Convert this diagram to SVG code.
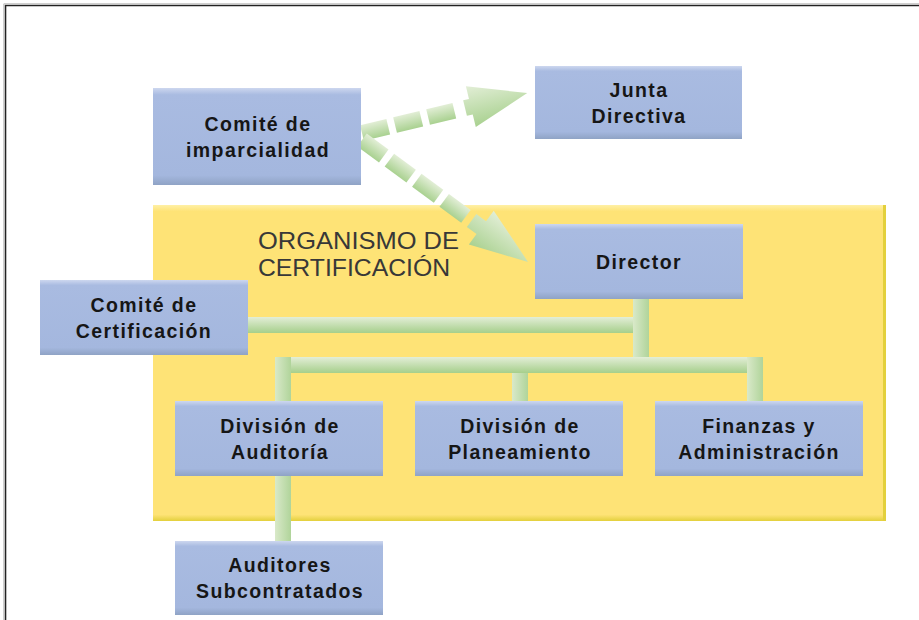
<svg xmlns="http://www.w3.org/2000/svg" width="919" height="620" viewBox="0 0 919 620">
<defs>
<style>
.box{fill:url(#boxg);}
.t{font-family:"Liberation Sans",Arial,sans-serif;font-weight:bold;font-size:19.5px;letter-spacing:1.4px;fill:#161616;text-anchor:middle;}
.org{font-family:"Liberation Sans",Arial,sans-serif;font-size:24px;fill:#383838;}
.h{fill:url(#hg);}
.v{fill:url(#vg);}
.dash{fill:url(#dg);}
</style>
<linearGradient id="boxg" x1="0" y1="0" x2="0" y2="1">
<stop offset="0" stop-color="#cdd7ef"/>
<stop offset="0.07" stop-color="#a9bbe1"/>
<stop offset="0.9" stop-color="#a4b7de"/>
<stop offset="1" stop-color="#8fa3c5"/>
</linearGradient>
<linearGradient id="yg" x1="0" y1="0" x2="0" y2="1">
<stop offset="0" stop-color="#fff0a6"/>
<stop offset="0.02" stop-color="#fee376"/>
<stop offset="0.98" stop-color="#fee376"/>
<stop offset="1" stop-color="#e3d03c"/>
</linearGradient>
<linearGradient id="hg" x1="0" y1="0" x2="0" y2="1">
<stop offset="0" stop-color="#e3eed7"/>
<stop offset="1" stop-color="#a6cf8b"/>
</linearGradient>
<linearGradient id="vg" x1="0" y1="0" x2="1" y2="0">
<stop offset="0" stop-color="#d9e9c9"/>
<stop offset="1" stop-color="#b0d49a"/>
</linearGradient>
<linearGradient id="dg" x1="0" y1="0" x2="0" y2="1">
<stop offset="0" stop-color="#e2eed6"/>
<stop offset="1" stop-color="#a9d190"/>
</linearGradient>
</defs>
<rect width="919" height="620" fill="#ffffff"/>
<path d="M5.5,620 V5.5 H919" fill="none" stroke="#222222" stroke-width="1.6"/>
<path d="M3.8,620 V3.8 H919" fill="none" stroke="#bbbbbb" stroke-width="1"/>

<g id="organismo">
<rect x="153" y="205" width="733" height="316" fill="url(#yg)"/>
<rect x="883" y="205" width="3" height="316" fill="#e3d03c"/>
<text class="org" x="258" y="249" textLength="201" lengthAdjust="spacingAndGlyphs">ORGANISMO DE</text>
<text class="org" x="258" y="276" textLength="192" lengthAdjust="spacingAndGlyphs">CERTIFICACIÓN</text>
</g>

<g id="connectors">
<rect class="h" x="247" y="317" width="394" height="16"/>
<rect class="v" x="633" y="299" width="16" height="66"/>
<rect class="h" x="275" y="357" width="488" height="16"/>
<rect class="v" x="275" y="357" width="16" height="44"/>
<rect class="v" x="512" y="373" width="16" height="28"/>
<rect class="v" x="747" y="357" width="16" height="44"/>
<rect class="v" x="275" y="476" width="16" height="65"/>
<g id="arrow-junta" transform="translate(362,133) rotate(-13.6)">
<rect class="dash" x="0" y="-8" width="27" height="16"/>
<rect class="dash" x="34" y="-8" width="27" height="16"/>
<rect class="dash" x="68" y="-8" width="27" height="16"/>
<polygon class="dash" points="106,-8 112,-8 112,-21 170,0 112,21 112,8 106,8"/>
</g>
<g id="arrow-director" transform="translate(362,140) rotate(36.3)">
<rect class="dash" x="0" y="-8" width="27" height="16"/>
<rect class="dash" x="34" y="-8" width="27" height="16"/>
<rect class="dash" x="68" y="-8" width="27" height="16"/>
<rect class="dash" x="102" y="-8" width="27" height="16"/>
<polygon class="dash" points="136,-8 148,-8 148,-21 206,0 148,21 148,8 136,8"/>
</g>
</g>

<g id="comite-imparcialidad">
<rect class="box" x="153" y="88" width="208" height="97"/>
<text class="t" x="258" y="131">Comité de</text>
<text class="t" x="258" y="157">imparcialidad</text>
</g>

<g id="junta-directiva">
<rect class="box" x="535" y="66" width="207" height="73"/>
<text class="t" x="639" y="97">Junta</text>
<text class="t" x="639" y="123">Directiva</text>
</g>

<g id="director">
<rect class="box" x="535" y="224" width="208" height="75"/>
<text class="t" x="639" y="269">Director</text>
</g>

<g id="comite-certificacion">
<rect class="box" x="40" y="280" width="208" height="75"/>
<text class="t" x="144" y="312">Comité de</text>
<text class="t" x="144" y="338">Certificación</text>
</g>

<g id="division-auditoria">
<rect class="box" x="175" y="401" width="208" height="75"/>
<text class="t" x="280" y="433">División de</text>
<text class="t" x="280" y="459">Auditoría</text>
</g>

<g id="division-planeamiento">
<rect class="box" x="415" y="401" width="208" height="75"/>
<text class="t" x="520" y="433">División de</text>
<text class="t" x="520" y="459">Planeamiento</text>
</g>

<g id="finanzas">
<rect class="box" x="655" y="401" width="208" height="75"/>
<text class="t" x="759" y="433">Finanzas y</text>
<text class="t" x="759" y="459">Administración</text>
</g>

<g id="auditores">
<rect class="box" x="175" y="541" width="208" height="74"/>
<text class="t" x="280" y="572">Auditores</text>
<text class="t" x="280" y="598">Subcontratados</text>
</g>
</svg>
